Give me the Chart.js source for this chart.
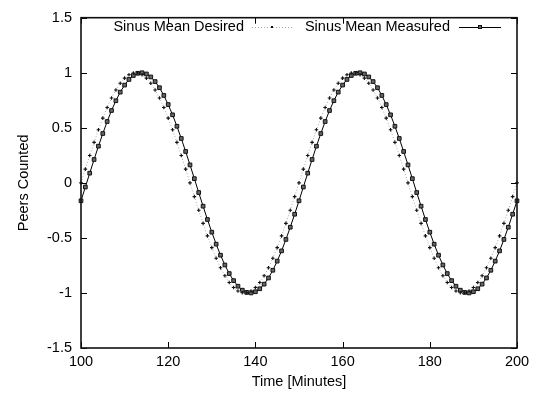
<!DOCTYPE html>
<html><head><meta charset="utf-8">
<script src="https://cdn.jsdelivr.net/npm/chart.js@4"></script>
<style>html,body{margin:0;padding:0;background:#fff}#wrap{width:539px;height:395px;position:relative}</style>
</head><body><div id="wrap"><canvas id="c" width="539" height="395"></canvas></div>
<script>
const times = [100,101,102,103,104,105,106,107,108,109,110,111,112,113,114,115,116,117,118,119,120,121,122,123,124,125,126,127,128,129,130,131,132,133,134,135,136,137,138,139,140,141,142,143,144,145,146,147,148,149,150,151,152,153,154,155,156,157,158,159,160,161,162,163,164,165,166,167,168,169,170,171,172,173,174,175,176,177,178,179,180,181,182,183,184,185,186,187,188,189,190,191,192,193,194,195,196,197,198,199,200];
const desired = [0,0.125,0.249,0.368,0.482,0.588,0.685,0.771,0.844,0.905,0.951,0.982,0.998,0.998,0.982,0.951,0.905,0.844,0.771,0.685,0.588,0.482,0.368,0.249,0.125,0,-0.125,-0.249,-0.368,-0.482,-0.588,-0.685,-0.771,-0.844,-0.905,-0.951,-0.982,-0.998,-0.998,-0.982,-0.951,-0.905,-0.844,-0.771,-0.685,-0.588,-0.482,-0.368,-0.249,-0.125,
0,0.125,0.249,0.368,0.482,0.588,0.685,0.771,0.844,0.905,0.951,0.982,0.998,0.998,0.982,0.951,0.905,0.844,0.771,0.685,0.588,0.482,0.368,0.249,0.125,0,-0.125,-0.249,-0.368,-0.482,-0.588,-0.685,-0.771,-0.844,-0.905,-0.951,-0.982,-0.998,-0.998,-0.982,-0.951,-0.905,-0.844,-0.771,-0.685,-0.588,-0.482,-0.368,-0.249,-0.125,0];
const measured = [-0.163,-0.038,0.088,0.212,0.333,0.448,0.557,0.657,0.746,0.824,0.888,0.939,0.975,0.995,1.000,0.989,0.962,0.920,0.864,0.794,0.711,0.618,0.514,0.403,0.285,0.163,0.038,-0.088,-0.212,-0.333,-0.448,-0.557,-0.657,-0.746,-0.824,-0.888,-0.939,-0.975,-0.995,-1.000,-0.989,-0.962,-0.920,-0.864,-0.794,-0.711,-0.618,-0.514,-0.403,-0.285,
-0.163,-0.038,0.088,0.212,0.333,0.448,0.557,0.657,0.746,0.824,0.888,0.939,0.975,0.995,1.000,0.989,0.962,0.920,0.864,0.794,0.711,0.618,0.514,0.403,0.285,0.163,0.038,-0.088,-0.212,-0.333,-0.448,-0.557,-0.657,-0.746,-0.824,-0.888,-0.939,-0.975,-0.995,-1.000,-0.989,-0.962,-0.920,-0.864,-0.794,-0.711,-0.618,-0.514,-0.403,-0.285,-0.163];
const seriesNames = ['Sinus Mean Desired','Sinus Mean Measured'];
const xTickValues = [100,120,140,160,180,200];
const xTickLabels = ['100','120','140','160','180','200'];
const yTickValues = [-1.5,-1,-0.5,0,0.5,1,1.5];
const yTickLabels = ['-1.5','-1','-0.5','0','0.5','1','1.5'];
const xTitle = 'Time [Minutes]';
const yTitle = 'Peers Counted';

const FONT = '"Liberation Sans", Arial, Helvetica, sans-serif';
const FS = 14.5;

const framePlugin = {
  id: 'frame',
  afterDatasetsDraw(chart) {
    const {ctx, chartArea: a, scales: {x, y}} = chart;
    ctx.save();
    ctx.strokeStyle = '#000';
    ctx.lineWidth = 1;
    ctx.beginPath();
    x.ticks.forEach(t => {
      const px = Math.round(x.getPixelForValue(t.value)) + 0.5;
      ctx.moveTo(px, a.bottom); ctx.lineTo(px, a.bottom - 6);
      ctx.moveTo(px, a.top); ctx.lineTo(px, a.top + 6);
    });
    y.ticks.forEach(t => {
      const py = Math.round(y.getPixelForValue(t.value)) + 0.5;
      ctx.moveTo(a.left, py); ctx.lineTo(a.left + 6, py);
      ctx.moveTo(a.right, py); ctx.lineTo(a.right - 6, py);
    });
    ctx.stroke();
    ctx.lineWidth = 1.6;
    ctx.strokeStyle = '#111';
    ctx.strokeRect(a.left, a.top, a.right - a.left, a.bottom - a.top);
    ctx.restore();
  },
  afterDraw(chart) {
    const {ctx} = chart;
    const ds = chart.data.datasets;
    const yy = 27;
    ctx.save();
    ctx.font = FS + 'px ' + FONT;
    ctx.fillStyle = '#000';
    ctx.textAlign = 'right';
    ctx.textBaseline = 'middle';
    ctx.fillText(ds[0].label, 244, yy);
    ctx.strokeStyle = '#aaa'; ctx.lineWidth = 1; ctx.setLineDash([1, 2]);
    ctx.beginPath(); ctx.moveTo(252, yy + 0.5); ctx.lineTo(292, yy + 0.5); ctx.stroke();
    ctx.setLineDash([]);
    ctx.fillStyle = '#111';
    ctx.fillRect(271, yy - 1, 2, 2);
    ctx.fillStyle = '#000';
    ctx.fillText(ds[1].label, 450, yy);
    ctx.strokeStyle = '#000'; ctx.lineWidth = 1;
    ctx.beginPath(); ctx.moveTo(459, yy + 0.5); ctx.lineTo(501, yy + 0.5); ctx.stroke();
    ctx.fillStyle = '#666'; ctx.strokeStyle = '#111';
    ctx.fillRect(478.5, yy - 1.5, 3, 3); ctx.strokeRect(478.5, yy - 1.5, 3, 3);
    ctx.restore();
  }
};

const chart = new Chart(document.getElementById('c'), {
  type: 'line',
  data: {
    datasets: [
      {
        label: seriesNames[0],
        data: times.map((t, i) => ({x: t, y: desired[i]})),
        borderColor: '#aaa', borderWidth: 1, borderDash: [1, 2],
        pointStyle: 'cross', pointRadius: 1.8, pointBorderWidth: 1.1,
        pointBorderColor: '#111', pointBackgroundColor: '#111',
        tension: 0, clip: false
      },
      {
        label: seriesNames[1],
        data: times.map((t, i) => ({x: t, y: measured[i]})),
        borderColor: '#000', borderWidth: 1,
        pointStyle: 'rect', pointRadius: 2.6, pointBorderWidth: 1,
        pointBorderColor: '#111', pointBackgroundColor: '#666',
        tension: 0, clip: false
      }
    ]
  },
  options: {
    responsive: false,
    animation: false,
    devicePixelRatio: 1,
    layout: {padding: {top: 15, right: 22, left: 0, bottom: 0}},
    plugins: {legend: {display: false}, tooltip: {enabled: false}},
    elements: {point: {hoverRadius: 3}},
    scales: {
      x: {
        type: 'linear', min: 100, max: 200,
        afterBuildTicks: s => { s.ticks = xTickValues.map(v => ({value: v})); },
        afterFit: s => { s.height = 47; },
        grid: {display: false, drawTicks: false},
        border: {display: false},
        ticks: {padding: 5, color: '#000', font: {family: FONT, size: FS}, maxRotation: 0,
          callback: (v, i) => xTickLabels[i]},
        title: {display: true, text: xTitle, color: '#000', font: {family: FONT, size: FS}, padding: {top: 0, bottom: 4}}
      },
      y: {
        type: 'linear', min: -1.5, max: 1.5,
        afterBuildTicks: s => { s.ticks = yTickValues.map(v => ({value: v})); },
        afterFit: s => { s.width = 81; },
        grid: {display: false, drawTicks: false},
        border: {display: false},
        ticks: {padding: 9, color: '#000', font: {family: FONT, size: FS},
          callback: (v, i) => yTickLabels[i]},
        title: {display: true, text: yTitle, color: '#000', font: {family: FONT, size: FS}, padding: {top: 15, bottom: 0}}
      }
    }
  },
  plugins: [framePlugin]
});
</script></body></html>
